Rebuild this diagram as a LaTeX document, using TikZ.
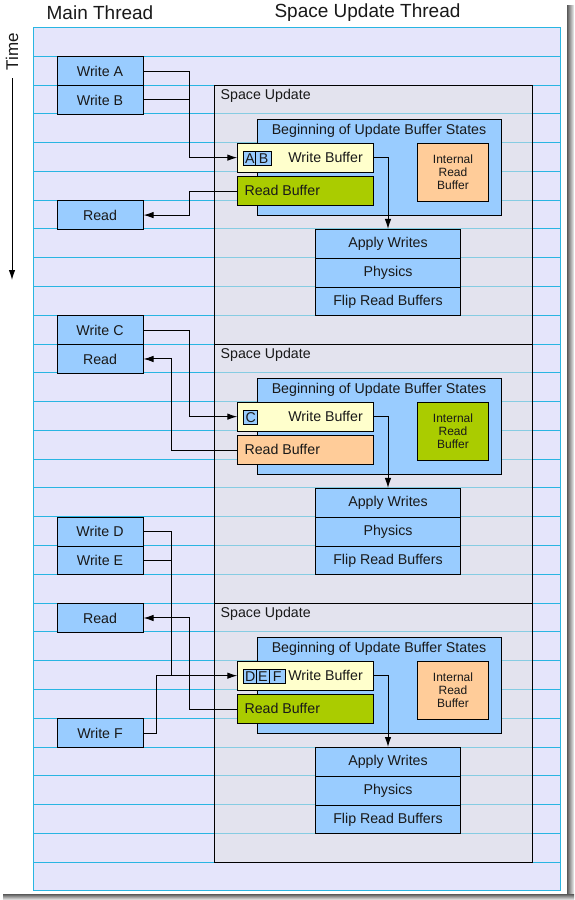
\documentclass[tikz,border=0pt]{standalone}
\usepackage{fontspec}
\setmainfont{Liberation Sans}
\usetikzlibrary{arrows.meta}
\definecolor{panel}{RGB}{229,229,251}
\definecolor{rowline}{RGB}{41,181,226}
\definecolor{subox}{RGB}{227,227,226}
\definecolor{bluebox}{RGB}{153,204,255}
\definecolor{wbuf}{RGB}{255,255,204}
\definecolor{gbuf}{RGB}{170,204,0}
\definecolor{obuf}{RGB}{255,204,153}
\def\T{27.5}
\def\R{28.78}
\begin{document}
\begin{tikzpicture}[x=1pt,y=-1pt,
  txt/.style={font=\fontsize{14.2}{16}\selectfont, text=black!90, inner sep=0pt},
  box/.style={draw=black, line width=1pt, inner sep=0pt, anchor=north west, font=\fontsize{14.2}{16}\selectfont, text=black!90},
  mainbox/.style={box, fill=bluebox, minimum width=86pt, minimum height=28.78pt},
  stepbox/.style={box, fill=bluebox, minimum width=144.4pt, minimum height=28.78pt},
  cell/.style={box, fill=bluebox, minimum height=13.3pt},
  arr/.style={line width=1pt, -{Latex[length=10pt,width=6.5pt]}},
  conn/.style={line width=1pt},
  title/.style={font=\fontsize{19}{22}\selectfont, text=black!90, inner sep=0pt}]
\useasboundingbox (0,0) rectangle (574,900);
\fill[white] (0,0) rectangle (574,900);
% shadow
\shade[left color=black!65, right color=black!5] (567,5) rectangle (574,900);
\shade[top color=black!65, bottom color=black!5] (3,894) rectangle (574,900);
\fill[white] (0,0) rectangle (567,894);
% titles
\node[title] (tmain) at (100,13) {Main Thread};
\node[title] (tspace) at (367.5,13) {Space Update Thread};
\node[font=\fontsize{17}{20}\selectfont, text=black!90, inner sep=0pt, rotate=90] (time) at (12,51.5) {Time};
\coordinate (ts) at (12,78);
\coordinate (te) at (12,280);
\draw[arr] (ts) -- (te);
% panel and rows
\draw[rowline, fill=panel, line width=1pt] (33.3,\T) rectangle (560.7,890.9);
\foreach \k in {1,...,29} \draw[rowline, line width=1pt] (33.3,\T+\R*\k) -- (560.7,\T+\R*\k);
% space update boxes
\foreach \i/\r in {1/2, 2/11, 3/20}{
  \pgfmathsetmacro\sy{\T+\R*\r}
  \node[draw=black, line width=1pt, fill=subox, fill opacity=0.5, anchor=north west, minimum width=317.5pt, minimum height=259pt, inner sep=0pt] (su\i) at (214,\sy) {};
  \node[txt, anchor=west] (sul\i) at (220.5,\sy+11) {Space Update};
}
\foreach \i/\r/\rc/\ic in {1/2/gbuf/obuf, 2/11/obuf/gbuf, 3/20/gbuf/obuf}{
  \pgfmathsetmacro\wy{\T+\R*(\r+2)}
  \node[box, fill=bluebox, minimum width=243.4pt, minimum height=95.6pt] (bg\i) at (257.3,\wy-23.3) {};
  \node[txt] (bgt\i) at (379,\wy-11.5) {Beginning of Update Buffer States};
  \node[box, fill=wbuf, minimum width=135.4pt, minimum height=29pt] (wb\i) at (237.3,\wy) {};
  \node[txt] (wbt\i) at (325.5,\wy+14.5) {Write Buffer};
  \node[box, fill=\rc, minimum width=135.4pt, minimum height=28.8pt] (rb\i) at (237.3,\wy+33.5) {};
  \node[txt, anchor=west] (rbt\i) at (244.3,\wy+48) {Read Buffer};
  \node[box, fill=\ic, minimum width=71.6pt, minimum height=58pt, align=center, font=\fontsize{12}{13}\selectfont] (ib\i) at (416.7,\wy) {Internal\\Read\\Buffer};
  \node[stepbox] (ap\i) at (315.3,{\T+\R*(\r+5)}) {Apply Writes};
  \node[stepbox] (ph\i) at (315.3,{\T+\R*(\r+6)}) {Physics};
  \node[stepbox] (fl\i) at (315.3,{\T+\R*(\r+7)}) {Flip Read Buffers};
  \draw[arr] (wb\i.east) -| (ap\i.north);
}
% cells
\pgfmathsetmacro\ca{\T+\R*4+8.7}
\pgfmathsetmacro\cb{\T+\R*13+8.7}
\pgfmathsetmacro\cc{\T+\R*22+8.7}
\node[cell, minimum width=12pt] (cA) at (243.3,\ca) {A};
\node[cell, minimum width=15.4pt] (cB) at (255.3,\ca) {B};
\node[cell, minimum width=14pt] (cC) at (243.3,\cb) {C};
\node[cell, minimum width=12.7pt] (cD) at (243.3,\cc) {D};
\node[cell, minimum width=12.7pt] (cE) at (256,\cc) {E};
\node[cell, minimum width=16pt] (cF) at (268.7,\cc) {F};
% main thread boxes
\node[mainbox] (wA) at (56.5,\T+\R*1) {Write A};
\node[mainbox] (wB) at (56.5,\T+\R*2) {Write B};
\node[mainbox] (rd1) at (56.5,\T+\R*6) {Read};
\node[mainbox] (wC) at (56.5,\T+\R*10) {Write C};
\node[mainbox] (rd2) at (56.5,\T+\R*11) {Read};
\node[mainbox] (wD) at (56.5,\T+\R*17) {Write D};
\node[mainbox] (wE) at (56.5,\T+\R*18) {Write E};
\node[mainbox] (rd3) at (56.5,\T+\R*20) {Read};
\node[mainbox] (wF) at (56.5,\T+\R*24) {Write F};
% connectors
\coordinate (xa) at (189.3,0);
\coordinate (xb) at (171.5,0);
\coordinate (xc) at (156.3,0);
\draw[arr] (wA.east) -- (wA.east -| xa) |- (wb1.west);
\draw[conn] (wB.east) -- (wB.east -| xa);
\draw[arr] (rb1.west) -- (rb1.west -| xa) |- (rd1.east);
\draw[arr] (wC.east) -- (wC.east -| xa) |- (wb2.west);
\draw[arr] (rb2.west) -- (rb2.west -| xb) |- (rd2.east);
\draw[arr] (wD.east) -- (wD.east -| xb) |- (wb3.west);
\draw[conn] (wE.east) -- (wE.east -| xb);
\draw[conn] (wF.east) -- (wF.east -| xc) |- (wb3.west -| xb);
\draw[arr] (rb3.west) -- (rb3.west -| xa) |- (rd3.east);
\end{tikzpicture}
\end{document}
